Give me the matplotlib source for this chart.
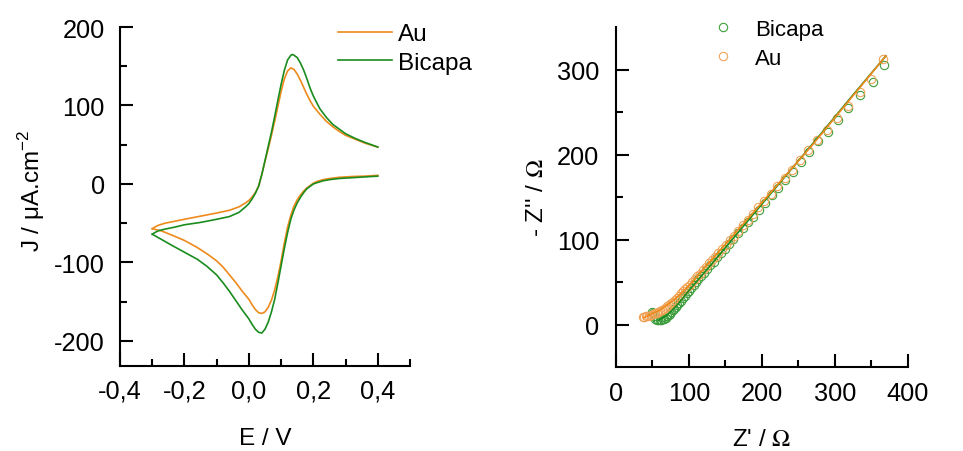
import matplotlib
matplotlib.use("Agg")
import matplotlib.pyplot as plt
from matplotlib.ticker import MultipleLocator, FuncFormatter

plt.rcParams.update({
    "font.family": ["Liberation Sans", "DejaVu Sans"],
    "font.size": 17.5,
    "xtick.labelsize": 18.3,
    "ytick.labelsize": 18.3,
    "mathtext.fontset": "custom",
    "mathtext.rm": "Liberation Sans",
    "axes.linewidth": 1.5,
    "axes.unicode_minus": False,
})

ORANGE = "#EE8A1C"
GREEN = "#1A8C1E"
ORANGE_PT = "#F0A358"
GREEN_PT = "#3E9E3E"

# ── Cyclic voltammetry (E / V, J / uA cm-2) ─────────────────────────
# forward scan (-0.3 -> 0.4)
e_fwd_au = [-0.30, -0.29, -0.28, -0.26, -0.23, -0.20, -0.15, -0.10, -0.06, -0.03,
            -0.01, 0.00, 0.01, 0.02, 0.03, 0.04, 0.05, 0.06, 0.07, 0.08, 0.09,
            0.10, 0.11, 0.12, 0.13, 0.14, 0.15, 0.16, 0.17, 0.18, 0.19, 0.20,
            0.22, 0.24, 0.26, 0.28, 0.30, 0.33, 0.36, 0.40]
j_fwd_au = [-57, -54.5, -52.5, -50, -47.5, -45, -41, -37, -33.5, -29, -24, -21,
            -16.5, -11, -3, 12, 29, 45, 62, 80, 99, 118, 134, 144, 148, 146,
            140, 132, 123, 114, 106, 99, 89, 80, 73, 67, 62, 57, 52, 47]
e_fwd_bi = [-0.30, -0.29, -0.28, -0.26, -0.23, -0.20, -0.15, -0.10, -0.06, -0.03,
            -0.01, 0.00, 0.01, 0.02, 0.03, 0.04, 0.05, 0.06, 0.07, 0.08, 0.09,
            0.10, 0.11, 0.12, 0.13, 0.135, 0.14, 0.15, 0.16, 0.17, 0.18, 0.19,
            0.20, 0.22, 0.24, 0.26, 0.28, 0.30, 0.33, 0.36, 0.40]
j_fwd_bi = [-64, -61.5, -59.5, -57.5, -55, -52, -49, -45, -41.5, -36, -29, -25,
            -19, -12, -3, 12, 30, 48, 66, 86, 107, 127, 145, 158, 164, 165, 164,
            161, 154, 145, 134, 122, 112, 96, 85, 76, 70, 64, 58, 53, 47]
# reverse scan (0.4 -> -0.3)
e_rev_au = [0.40, 0.36, 0.32, 0.28, 0.25, 0.23, 0.21, 0.20, 0.19, 0.18, 0.17,
            0.16, 0.15, 0.14, 0.13, 0.12, 0.11, 0.10, 0.09, 0.08, 0.07, 0.06,
            0.05, 0.04, 0.03, 0.02, 0.01, 0.00, -0.02, -0.04, -0.06, -0.08,
            -0.10, -0.13, -0.16, -0.20, -0.24, -0.27, -0.30]
j_rev_au = [11, 10, 9.5, 8.5, 7, 5.5, 3, 1, -2, -5, -9, -14, -20, -28, -40, -55,
            -75, -98, -118, -135, -148, -157, -163, -165, -164, -160, -154, -147,
            -137, -126, -116, -106, -98, -89, -81, -72, -65, -60, -57]
e_rev_bi = [0.40, 0.36, 0.32, 0.28, 0.25, 0.23, 0.21, 0.20, 0.19, 0.18, 0.17,
            0.16, 0.15, 0.14, 0.13, 0.12, 0.11, 0.10, 0.09, 0.08, 0.07, 0.06,
            0.05, 0.04, 0.03, 0.02, 0.01, 0.00, -0.02, -0.04, -0.06, -0.08,
            -0.10, -0.13, -0.16, -0.20, -0.24, -0.27, -0.30]
j_rev_bi = [10, 9, 8, 7, 5.5, 4, 1.5, 0, -3, -6, -11, -17, -24, -33, -45, -62,
            -82, -104, -126, -147, -163, -176, -185, -190, -189, -185, -179,
            -172, -161, -149, -137, -126, -116, -105, -96, -87, -78, -71, -64]

# ── Nyquist data (Z' / ohm, -Z'' / ohm) ──────────────────────────────
zr_bi = [368, 352, 334.6, 318.6, 304, 290, 277, 265, 253, 242, 232, 222.6,
         213.5, 204, 196.6, 188, 181.5, 174.6, 167.8, 161, 155.4, 149.5, 144,
         139, 134, 129.5, 125, 121, 117, 113, 110, 106.5, 103, 100, 97, 94,
         91.5, 89, 86.5, 84, 82, 80, 78, 76, 74, 72, 70, 68, 66, 64, 62, 60,
         58, 56, 54, 52, 51, 50]
zi_bi = [305, 285.5, 270, 255, 241, 227, 216, 203, 191, 180, 170, 161, 152,
         143, 135, 127, 121, 114, 108, 101, 95, 89, 84, 79, 74, 69.5, 65, 61,
         57, 53, 49.5, 46, 43, 40, 37, 34, 31, 28, 25.5, 23, 20.5, 18.5, 16.5,
         14.5, 12.5, 11, 9.5, 8, 7, 6, 5.5, 5, 5, 5.5, 7, 10, 13, 15]
zr_au = [366, 350, 334, 318, 303, 289, 276, 263, 252, 241.5, 231.5, 221, 212,
         203, 195, 187.5, 180.5, 174, 167.5, 161.5, 156, 150.5, 145.5, 140.5,
         136, 131.5, 127, 123, 119, 115, 111.5, 108, 104.5, 101, 98, 95, 92,
         89, 86, 83, 80.5, 78, 75.5, 73, 70.5, 68, 65.5, 63, 60.5, 58, 55.5,
         53, 50.5, 48, 45.5, 43, 41, 39, 37.5]
zi_au = [312, 289, 273, 257, 243, 229, 217, 205, 193, 182, 172.5, 163, 154,
         145.5, 138, 130.5, 123.5, 117, 110.5, 104.5, 99, 94, 89, 84, 79.5, 76,
         72, 68, 64, 60, 56.5, 53, 49.5, 46.5, 44, 41.5, 39, 36.5, 34, 31.5, 29,
         27, 25, 23, 21.5, 20, 18.5, 17, 16, 15, 14, 13, 12, 11, 10.5, 10, 9.5,
         9, 8.5]
# fitted curves
zr_fit_bi = [58, 70, 85, 100, 130, 170, 220, 270, 320, 370]
zi_fit_bi = [5, 11, 24, 40, 70, 111, 162, 213, 265, 316]
zr_fit_au = [38, 60, 80, 100, 130, 170, 220, 270, 320, 370]
zi_fit_au = [8, 17, 29, 46, 75, 114, 163, 212, 264, 316]


def comma(x, pos):
    return f"{x:.1f}".replace(".", ",")


def style(ax):
    ax.spines["top"].set_visible(False)
    ax.spines["right"].set_visible(False)
    ax.tick_params(which="major", direction="in", length=9.5, width=1.5)
    ax.tick_params(which="minor", direction="in", length=5, width=1.5)
    ax.tick_params(axis="y", which="major", pad=11)
    ax.tick_params(axis="x", which="major", pad=9)


fig = plt.figure(figsize=(9.63, 4.52), dpi=100, facecolor="white")

# ── Left: CV ─────────────────────────────────────────────────────────
ax1 = fig.add_axes([0.1246, 0.188, 0.3012, 0.750])
ax1.plot(e_fwd_au, j_fwd_au, color=ORANGE, lw=1.2, label="Au")
ax1.plot(e_rev_au, j_rev_au, color=ORANGE, lw=1.2)
ax1.plot(e_fwd_bi, j_fwd_bi, color=GREEN, lw=1.2, label="Bicapa")
ax1.plot(e_rev_bi, j_rev_bi, color=GREEN, lw=1.2)
ax1.set_xlim(-0.4, 0.5)
ax1.set_ylim(-232, 200)
ax1.xaxis.set_major_locator(MultipleLocator(0.2))
ax1.xaxis.set_minor_locator(MultipleLocator(0.1))
ax1.xaxis.set_major_formatter(FuncFormatter(comma))
ax1.yaxis.set_major_locator(MultipleLocator(100))
ax1.yaxis.set_minor_locator(MultipleLocator(50))
style(ax1)
ax1.set_xlabel("E / V")
ax1.set_ylabel("J / μA.cm$^{-2}$")
ax1.xaxis.set_label_coords(0.5, -0.18)
ax1.yaxis.set_label_coords(-0.25, 0.52)
ax1.legend(loc="upper left", bbox_to_anchor=(0.718, 1.04), frameon=False,
           handlelength=2.22, handletextpad=0.25, labelspacing=0.26,
           borderpad=0.4, borderaxespad=0)

# ── Right: Nyquist ───────────────────────────────────────────────────
ax2 = fig.add_axes([0.6397, 0.1858, 0.3029, 0.7522])
ax2.plot(zr_bi, zi_bi, "o", mfc="none", mec=GREEN_PT, ms=6, mew=0.8, label="Bicapa")
ax2.plot(zr_au, zi_au, "o", mfc="none", mec=ORANGE_PT, ms=6, mew=0.8, label="Au")
ax2.plot(zr_fit_bi, zi_fit_bi, color=GREEN, lw=1.2)
ax2.plot(zr_fit_au, zi_fit_au, color=ORANGE, lw=1.2)
ax2.set_xlim(0, 400)
ax2.set_ylim(-50, 350)
ax2.xaxis.set_major_locator(MultipleLocator(100))
ax2.xaxis.set_minor_locator(MultipleLocator(50))
ax2.set_yticks([0, 100, 200, 300])
ax2.set_yticks([50, 150, 250], minor=True)
style(ax2)
ax2.tick_params(axis="y", which="major", pad=12)
ax2.tick_params(axis="x", which="major", pad=10)
ax2.set_xlabel("Z' / $\\mathrm{\\Omega}$", math_fontfamily="stix")
ax2.set_ylabel("- Z'' / $\\mathrm{\\Omega}$", math_fontfamily="stix")
ax2.xaxis.set_label_coords(0.5, -0.18)
ax2.yaxis.set_label_coords(-0.233, 0.5)
ax2.legend(loc="upper left", bbox_to_anchor=(0.298, 1.05), frameon=False,
           fontsize=16, handlelength=1.0, handletextpad=0.94, labelspacing=0.35,
           borderpad=0.4, borderaxespad=0)

fig.savefig("out.png", dpi=100, facecolor="white")
